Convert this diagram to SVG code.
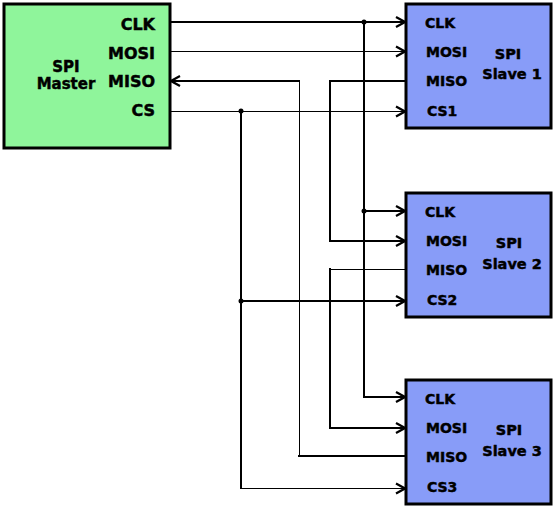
<svg xmlns="http://www.w3.org/2000/svg" width="556" height="510" viewBox="0 0 556 510">
<style>
.bg{fill:#ffffff}
.master{fill:#8FF59B;stroke:#000;stroke-width:3}
.slave{fill:#889CF8;stroke:#000;stroke-width:3}
.w{fill:none;stroke:#000;stroke-linecap:square}
.t2{stroke-width:2}
.t1{stroke-width:1}
.lbl{font-family:"DejaVu Sans",Verdana,sans-serif;font-weight:bold;fill:#000;stroke:#000;stroke-width:0.45}
.ml{font-size:16px;text-anchor:end}
.sl{font-size:14px}
.title{font-size:14.5px;text-anchor:middle}
.dot{fill:#000}
</style>
<defs>
<marker id="arr" viewBox="-11 -7 13 14" markerWidth="13" markerHeight="14" refX="0" refY="0" orient="auto" markerUnits="userSpaceOnUse">
<path d="M-9,-5 L0,0 L-9,5" fill="none" stroke="#000" stroke-width="2.2"/>
</marker>
</defs>
<rect class="bg" x="0" y="0" width="556" height="510"/>
<g id="connectors">
<path class="w t2" d="M170,22 H405" marker-end="url(#arr)"/>
<path class="w t2" d="M364,22 V397 H405" marker-end="url(#arr)"/>
<path class="w t2" d="M364,211 H405" marker-end="url(#arr)"/>
<path class="w t1" d="M170,51.5 H405" marker-end="url(#arr)"/>
<path class="w t2" d="M299,81 H171" marker-end="url(#arr)"/>
<path class="w t1" d="M299.5,81 V456"/>
<path class="w t2" d="M299,456 H406"/>
<path class="w t2" d="M406,81 H330 V241 H405" marker-end="url(#arr)"/>
<path class="w t1" d="M406,269.5 H330.5"/>
<path class="w t2" d="M330,269 V428 H405" marker-end="url(#arr)"/>
<path class="w t1" d="M170,111.5 H405" marker-end="url(#arr)"/>
<path class="w t2" d="M241,111 V488"/>
<path class="w t1" d="M241,488.5 H405" marker-end="url(#arr)"/>
<path class="w t2" d="M241,301 H405" marker-end="url(#arr)"/>
<circle class="dot" cx="364" cy="22" r="2.5"/>
<circle class="dot" cx="364" cy="211" r="2.5"/>
<circle class="dot" cx="241" cy="111" r="2.5"/>
<circle class="dot" cx="241" cy="301" r="2.5"/>
</g>
<g id="master">
<rect class="master" x="4" y="4" width="166" height="144"/>
<text class="lbl ml" x="155" y="30">CLK</text>
<text class="lbl ml" x="155" y="58.5">MOSI</text>
<text class="lbl ml" x="155" y="87">MISO</text>
<text class="lbl ml" x="155" y="116">CS</text>
<text class="lbl title" x="66" y="72" style="font-size:15px">SPI</text>
<text class="lbl title" x="66" y="89" style="font-size:15px">Master</text>
</g>
<g id="slave1">
<rect class="slave" x="406" y="4" width="145" height="124"/>
<text class="lbl sl" x="425" y="28">CLK</text>
<text class="lbl sl" x="426" y="57">MOSI</text>
<text class="lbl sl" x="426" y="86">MISO</text>
<text class="lbl sl" x="427" y="116">CS1</text>
<text class="lbl title" x="508" y="59">SPI</text>
<text class="lbl title" x="512" y="79">Slave 1</text>
</g>
<g id="slave2">
<rect class="slave" x="406" y="193" width="145" height="124"/>
<text class="lbl sl" x="425" y="217">CLK</text>
<text class="lbl sl" x="426" y="246">MOSI</text>
<text class="lbl sl" x="426" y="275">MISO</text>
<text class="lbl sl" x="427" y="305">CS2</text>
<text class="lbl title" x="509" y="248">SPI</text>
<text class="lbl title" x="512" y="269">Slave 2</text>
</g>
<g id="slave3">
<rect class="slave" x="406" y="380" width="145" height="124"/>
<text class="lbl sl" x="425" y="404">CLK</text>
<text class="lbl sl" x="426" y="433">MOSI</text>
<text class="lbl sl" x="426" y="462">MISO</text>
<text class="lbl sl" x="427" y="492">CS3</text>
<text class="lbl title" x="509" y="435">SPI</text>
<text class="lbl title" x="512" y="456">Slave 3</text>
</g>
</svg>
